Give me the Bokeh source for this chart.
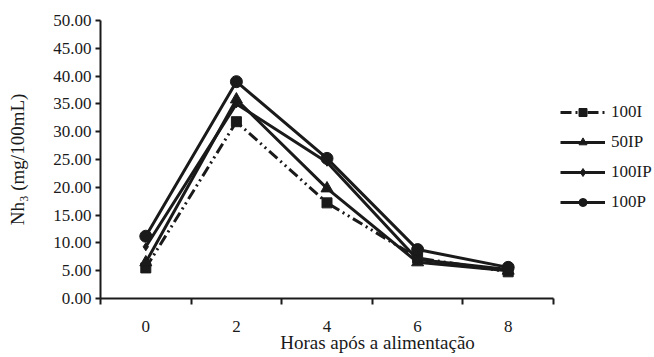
from bokeh.plotting import figure
from bokeh.models import FixedTicker, NumeralTickFormatter, Legend, LegendItem, Range1d
from bokeh.embed import file_html
from bokeh.resources import INLINE

hours = [0, 2, 4, 6, 8]
s_100I = [5.5, 31.8, 17.2, 7.3, 4.8]
s_50IP = [6.5, 35.8, 19.8, 6.5, 5.0]
s_100IP = [9.3, 35.0, 24.5, 7.0, 5.2]
s_100P = [11.2, 39.0, 25.2, 8.8, 5.6]
names = ["100I", "50IP", "100IP", "100P"]
y_ticks = [0, 5, 10, 15, 20, 25, 30, 35, 40, 45, 50]
x_minor = [-1, 1, 3, 5, 7, 9]

FONT = "Liberation Serif"
INK = "#1a1a1a"

W, H = 654, 357
LEFT, TOP, BOTTOM = 100, 20, 59
# axis spans -1..9 over 453 px; frame extended to the right to host the legend
px_per_unit = 453 / 10
frame_w = W - LEFT
x_end = -1 + frame_w / px_per_unit

p = figure(width=W, height=H, output_backend="svg", toolbar_location=None,
           x_range=Range1d(-1, x_end), y_range=Range1d(0, 50),
           min_border_left=LEFT, min_border_right=0, min_border_top=TOP, min_border_bottom=BOTTOM)
p.outline_line_color = None
p.xgrid.visible = False
p.ygrid.visible = False
p.background_fill_color = "white"

series = [s_100I, s_50IP, s_100IP, s_100P]
markers = ["square", "triangle", "diamond", "circle"]
sizes = [10, 12, 8, 12]
dashes = ["11 4 2 4 2 4", "solid", "solid", "solid"]
items = []
for name, vals, mk, sz, ds in zip(names, series, markers, sizes, dashes):
    r1 = p.line(hours, vals, line_color=INK, line_width=3, line_dash=ds)
    r2 = p.scatter(hours, vals, marker=mk, size=sz, fill_color=INK, line_color=INK)
    items.append(LegendItem(label=name, renderers=[r1, r2]))

legend = Legend(items=items, location=(460, 86), orientation="vertical",
                border_line_color=None, background_fill_alpha=0,
                label_text_font=FONT, label_text_font_size="17px", label_text_color=INK,
                glyph_width=45, glyph_height=20, spacing=10, padding=0, margin=0,
                label_standoff=6)
p.add_layout(legend, "center")

xa = p.xaxis[0]
xa.bounds = (-1, 9)
xa.ticker = FixedTicker(ticks=hours, minor_ticks=x_minor)
xa.major_tick_out = 0
xa.major_tick_in = 0
xa.minor_tick_out = 6
xa.minor_tick_in = 0
xa.minor_tick_line_width = 2
xa.minor_tick_line_color = INK
xa.axis_line_width = 2
xa.axis_line_color = INK
xa.major_label_standoff = 16
xa.major_label_text_font = FONT
xa.major_label_text_font_size = "17px"
xa.major_label_text_color = INK
xa.axis_label = "Horas após a alimentação"
xa.axis_label_text_font = FONT
xa.axis_label_text_font_size = "19px"
xa.axis_label_text_font_style = "normal"
xa.axis_label_text_color = INK
xa.axis_label_standoff = -3

ya = p.yaxis[0]
ya.ticker = FixedTicker(ticks=y_ticks, minor_ticks=[])
ya.formatter = NumeralTickFormatter(format="0.00")
ya.major_tick_out = 5
ya.major_tick_in = 0
ya.major_tick_line_width = 2
ya.major_tick_line_color = INK
ya.axis_line_width = 2
ya.axis_line_color = INK
ya.major_label_standoff = 4
ya.major_label_text_font = FONT
ya.major_label_text_font_size = "17px"
ya.major_label_text_color = INK
ya.axis_label = "Nh\u2083 (mg/100mL)"
ya.axis_label_text_font = FONT
ya.axis_label_text_font_size = "19px"
ya.axis_label_text_font_style = "normal"
ya.axis_label_text_color = INK
ya.axis_label_standoff = 22

open("out.html", "w").write(file_html(p, INLINE))
